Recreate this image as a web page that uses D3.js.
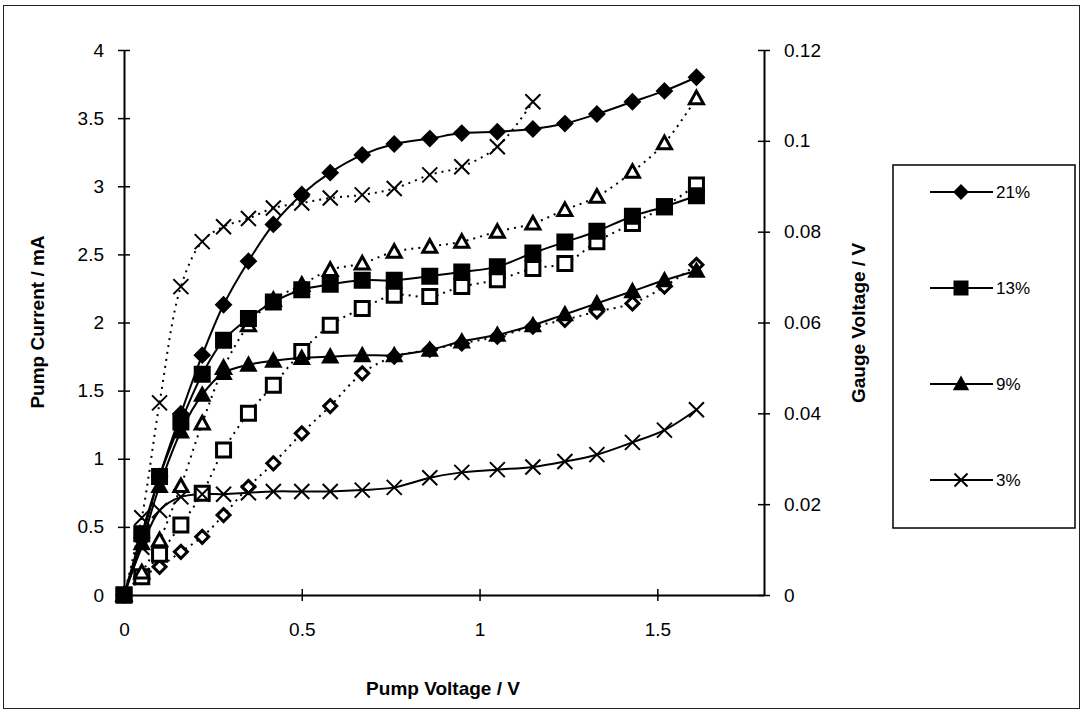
<!DOCTYPE html>
<html><head><meta charset="utf-8">
<script src="https://cdn.jsdelivr.net/npm/d3@7"></script>
<style>body{margin:0;background:#fff}svg{display:block;font-family:"Liberation Sans",Arial,sans-serif}</style>
</head><body><svg id="c" width="1084" height="714"></svg>
<script>
// ---- data ----
const pumpVoltage = [0, 0.05, 0.1, 0.16, 0.22, 0.28, 0.35, 0.42, 0.5, 0.58, 0.67, 0.76, 0.86, 0.95, 1.05, 1.15, 1.24, 1.33, 1.43, 1.52, 1.61];
const current21 = [0, 0.42, 0.87, 1.33, 1.76, 2.13, 2.45, 2.72, 2.94, 3.1, 3.23, 3.31, 3.35, 3.39, 3.4, 3.42, 3.46, 3.53, 3.62, 3.7, 3.8];
const current13 = [0, 0.45, 0.87, 1.27, 1.62, 1.87, 2.03, 2.15, 2.24, 2.28, 2.31, 2.31, 2.34, 2.37, 2.41, 2.51, 2.59, 2.67, 2.78, 2.85, 2.93];
const current9  = [0, 0.38, 0.8, 1.2, 1.47, 1.63, 1.69, 1.72, 1.74, 1.75, 1.76, 1.76, 1.8, 1.86, 1.91, 1.98, 2.06, 2.14, 2.23, 2.31, 2.38];
const current3  = [0, 0.35, 0.62, 0.72, 0.74, 0.74, 0.75, 0.76, 0.76, 0.76, 0.77, 0.79, 0.86, 0.9, 0.92, 0.94, 0.98, 1.03, 1.12, 1.21, 1.36];
const gauge21 = [0, 0.004, 0.0062, 0.0095, 0.0128, 0.0176, 0.0238, 0.029, 0.0356, 0.0416, 0.0488, 0.0525, 0.054, 0.0554, 0.0569, 0.0591, 0.0606, 0.0624, 0.0642, 0.0679, 0.0727];
const gauge13 = [0, 0.004, 0.009, 0.0154, 0.0224, 0.0319, 0.04, 0.0462, 0.0536, 0.0594, 0.0631, 0.066, 0.0657, 0.0679, 0.0694, 0.0719, 0.073, 0.0778, 0.0818, 0.0855, 0.0903];
const gauge9  = [0, 0.005, 0.0121, 0.024, 0.0378, 0.05, 0.0594, 0.065, 0.0683, 0.0716, 0.073, 0.0756, 0.0767, 0.0778, 0.08, 0.0818, 0.0848, 0.0877, 0.0932, 0.0995, 0.1094];
const gauge3  = [0, 0.017, 0.0423, 0.0679, 0.0778, 0.0811, 0.0829, 0.0852, 0.0863, 0.0874, 0.0881, 0.0895, 0.0925, 0.0943, 0.0987, 0.1086];
const seriesNames = ["21%", "13%", "9%", "3%"];
const xTicks = [0, 0.5, 1, 1.5];
const yLeftTicks = [0, 0.5, 1, 1.5, 2, 2.5, 3, 3.5, 4];
const yRightTicks = [0, 0.02, 0.04, 0.06, 0.08, 0.1, 0.12];
const xTitle = "Pump Voltage / V", yLeftTitle = "Pump Current / mA", yRightTitle = "Gauge Voltage / V";

// ---- layout ----
const svg = d3.select("#c");
const L = 124, R = 764, T = 50, B = 595;
const x = d3.scaleLinear().domain([0, 1.8]).range([L, R]);
const yL = d3.scaleLinear().domain([0, 4]).range([B, T]);
const yR = d3.scaleLinear().domain([0, 0.12]).range([B, T]);

svg.append("rect").attr("x", 3.5).attr("y", 5.5).attr("width", 1076).attr("height", 703)
  .attr("fill", "none").attr("stroke", "#222").attr("stroke-width", 1);

function markerPath(type, s) {
  const h = s / 2;
  if (type === "diamond") return `M0,${-h}L${h},0L0,${h}L${-h},0Z`;
  if (type === "square") return `M${-h},${-h}H${h}V${h}H${-h}Z`;
  if (type === "triangle") return `M0,${-h}L${h},${h * 0.8}H${-h}Z`;
  if (type === "x") return `M${-h},${-h}L${h},${h}M${h},${-h}L${-h},${h}`;
}
const types = ["diamond", "square", "triangle", "x"];
const currents = [current21, current13, current9, current3];
const gauges = [gauge21, gauge13, gauge9, gauge3];

// axes
const axL = d3.axisLeft(yL).tickValues(yLeftTicks).tickFormat(d3.format("")).tickSizeInner(6).tickSizeOuter(0).tickPadding(14);
const axR = d3.axisRight(yR).tickValues(yRightTicks).tickFormat(d => d === 0 ? "0" : String(+d.toFixed(2))).tickSizeInner(6).tickSizeOuter(0).tickPadding(14);
const axB = d3.axisBottom(x).tickValues(xTicks).tickFormat(d3.format("")).tickSizeInner(6).tickSizeOuter(0).tickPadding(22);
function styleAxis(g) {
  g.select(".domain").attr("stroke", "#000").attr("stroke-width", 2);
  g.selectAll(".tick line").attr("stroke", "#000").attr("stroke-width", 1.5);
  g.selectAll(".tick text").attr("font-size", 19).attr("font-family", "Liberation Sans, Arial, sans-serif").attr("fill", "#000");
}
const gL = svg.append("g").attr("transform", `translate(${L},0)`).call(axL); styleAxis(gL);
gL.selectAll(".tick line").attr("x1", 6).attr("x2", -6);
const gR = svg.append("g").attr("transform", `translate(${R},0)`).call(axR); styleAxis(gR);
gR.selectAll(".tick line").attr("x1", -6).attr("x2", 6);
const gB = svg.append("g").attr("transform", `translate(0,${B})`).call(axB); styleAxis(gB);
gB.selectAll(".tick line").attr("y1", -6).attr("y2", 6);
gB.selectAll(".tick").filter(d => d === 0).select("line").remove();

// titles
svg.append("text").attr("x", 443).attr("y", 695).attr("text-anchor", "middle")
  .attr("font-size", 19).attr("font-weight", "bold").text(xTitle);
svg.append("text").attr("transform", "translate(44,322) rotate(-90)").attr("text-anchor", "middle")
  .attr("font-size", 19).attr("font-weight", "bold").text(yLeftTitle);
svg.append("text").attr("transform", "translate(865,323) rotate(-90)").attr("text-anchor", "middle")
  .attr("font-size", 19).attr("font-weight", "bold").text(yRightTitle);

// series
const plot = svg.append("g");
gauges.forEach((arr) => {
  const pts = arr.map((g, j) => [x(pumpVoltage[j]), yR(g)]);
  plot.append("path").attr("d", d3.line().curve(d3.curveCatmullRom.alpha(0.5))(pts))
    .attr("fill", "none").attr("stroke", "#000").attr("stroke-width", 2).attr("stroke-dasharray", "2,5");
});
currents.forEach((arr) => {
  const pts = arr.map((c, j) => [x(pumpVoltage[j]), yL(c)]);
  plot.append("path").attr("d", d3.line().curve(d3.curveCatmullRom.alpha(0.5))(pts))
    .attr("fill", "none").attr("stroke", "#000").attr("stroke-width", 2);
});
gauges.forEach((arr, i) => {
  const t = types[i];
  plot.append("g").selectAll("path").data(arr).join("path")
    .attr("transform", (g, j) => `translate(${x(pumpVoltage[j])},${yR(g)})`)
    .attr("d", markerPath(t, t === "x" ? 15 : (t === "diamond" ? 13 : 14)))
    .attr("fill", t === "x" ? "none" : "#fff").attr("stroke", "#000").attr("stroke-width", t === "x" ? 2 : 3);
});
currents.forEach((arr, i) => {
  const t = types[i];
  plot.append("g").selectAll("path").data(arr).join("path")
    .attr("transform", (c, j) => `translate(${x(pumpVoltage[j])},${yL(c)})`)
    .attr("d", markerPath(t, 15))
    .attr("fill", t === "x" ? "none" : "#000").attr("stroke", "#000").attr("stroke-width", 2);
});

// legend
const lg = svg.append("g");
lg.append("rect").attr("x", 893).attr("y", 165).attr("width", 182).attr("height", 363)
  .attr("fill", "#fff").attr("stroke", "#000").attr("stroke-width", 1.5);
const legendY = d3.scalePoint().domain(seriesNames).range([192, 480]);
seriesNames.forEach((n, i) => {
  const yy = legendY(n);
  lg.append("line").attr("x1", 930).attr("x2", 993).attr("y1", yy).attr("y2", yy).attr("stroke", "#000").attr("stroke-width", 2);
  lg.append("path").attr("transform", `translate(961,${yy})`).attr("d", markerPath(types[i], 13))
    .attr("fill", types[i] === "x" ? "none" : "#000").attr("stroke", "#000").attr("stroke-width", 2);
  lg.append("text").attr("x", 996).attr("y", yy + 6).attr("font-size", 17).text(n);
});
</script></body></html>
